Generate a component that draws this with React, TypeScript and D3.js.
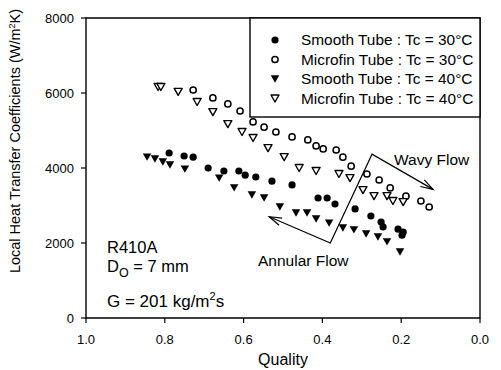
import React from "react";
import * as d3 from "d3";

const smooth30Q = [0.789, 0.751, 0.728, 0.69, 0.65, 0.612, 0.596, 0.569, 0.528, 0.477, 0.411, 0.388, 0.368, 0.317, 0.277, 0.251, 0.246, 0.208, 0.195, 0.198];
const smooth30H = [4400, 4320, 4290, 4000, 3920, 3920, 3810, 3760, 3650, 3550, 3200, 3200, 3040, 2910, 2720, 2560, 2430, 2370, 2290, 2210];

const smooth40Q = [0.845, 0.825, 0.805, 0.787, 0.749, 0.662, 0.624, 0.579, 0.548, 0.508, 0.467, 0.439, 0.416, 0.383, 0.348, 0.32, 0.289, 0.259, 0.236, 0.203];
const smooth40H = [4290, 4240, 4160, 4080, 3970, 3730, 3470, 3280, 3200, 2960, 2800, 2800, 2640, 2530, 2400, 2350, 2240, 2160, 2030, 1760];

const micro30Q = [0.728, 0.678, 0.64, 0.609, 0.576, 0.548, 0.518, 0.477, 0.437, 0.416, 0.398, 0.365, 0.348, 0.327, 0.287, 0.256, 0.228, 0.188, 0.15, 0.129];
const micro30H = [6080, 5870, 5710, 5520, 5230, 5090, 4960, 4830, 4750, 4590, 4510, 4480, 4290, 4050, 3840, 3680, 3470, 3250, 3120, 2960];

const micro40Q = [0.817, 0.81, 0.766, 0.718, 0.678, 0.64, 0.604, 0.576, 0.538, 0.497, 0.459, 0.416, 0.358, 0.33, 0.297, 0.269, 0.236, 0.221, 0.195];
const micro40H = [6160, 6160, 6030, 5760, 5490, 5170, 4960, 4800, 4530, 4290, 4000, 3920, 3840, 3730, 3410, 3250, 3250, 3120, 3090];

const xTicks = [1.0, 0.8, 0.6, 0.4, 0.2, 0.0];
const yTicks = [0, 2000, 4000, 6000, 8000];
const legendLabels = [
  "Smooth Tube : Tc = 30°C",
  "Microfin Tube : Tc = 30°C",
  "Smooth Tube : Tc = 40°C",
  "Microfin Tube : Tc = 40°C",
];

// annotation arrow waypoints (data units): quality, h
const annularTip = [0.535, 2700];
const corner = [0.38, 2000];
const apex = [0.274, 4370];
const wavyTip = [0.119, 3430];

const FONT = "'Liberation Sans', Arial, Helvetica, sans-serif";

export default function App() {
  const L = 86, R = 480, T = 18, B = 318;
  const x = d3.scaleLinear().domain([1, 0]).range([L, R]);
  const y = d3.scaleLinear().domain([0, 8000]).range([B, T]);

  const tri = (cx: number, cy: number, s: number) => {
    const h = s * 0.87;
    return `M${cx - s / 2},${cy - h / 2} L${cx + s / 2},${cy - h / 2} L${cx},${cy + h / 2} Z`;
  };

  const marker = (kind: number, cx: number, cy: number, key: string) => {
    if (kind === 0) return <circle key={key} cx={cx} cy={cy} r={3.6} fill="#000" />;
    if (kind === 1) return <circle key={key} cx={cx} cy={cy} r={3.1} fill="#fff" stroke="#000" strokeWidth={1.5} />;
    if (kind === 2) return <path key={key} d={tri(cx, cy, 8.5)} fill="#000" />;
    return <path key={key} d={tri(cx, cy, 8)} fill="#fff" stroke="#000" strokeWidth={1.4} strokeLinejoin="round" />;
  };

  const series = [
    { q: smooth30Q, h: smooth30H, kind: 0 },
    { q: micro30Q, h: micro30H, kind: 1 },
    { q: smooth40Q, h: smooth40H, kind: 2 },
    { q: micro40Q, h: micro40H, kind: 3 },
  ];

  const arrowHead = (tip: number[], from: number[], key: string) => {
    const tx = x(tip[0]), ty = y(tip[1]);
    const fx = x(from[0]), fy = y(from[1]);
    const ang = Math.atan2(fy - ty, fx - tx);
    const len = 13, spread = 0.3;
    const a1 = [tx + len * Math.cos(ang + spread), ty + len * Math.sin(ang + spread)];
    const a2 = [tx + len * Math.cos(ang - spread), ty + len * Math.sin(ang - spread)];
    return (
      <path key={key} d={`M${a1[0]},${a1[1]} L${tx},${ty} L${a2[0]},${a2[1]}`} fill="none" stroke="#000" strokeWidth={1.2} />
    );
  };

  const line = d3.line<number[]>().x((d) => x(d[0])).y((d) => y(d[1]));

  const legendRows = [40, 59.5, 79, 98.5];

  return (
    <div style={{ position: "fixed", left: 0, top: 0 }}>
      <svg width={501} height={370} style={{ display: "block", background: "#fff" }} fontFamily={FONT}>
        <rect x={0} y={0} width={501} height={370} fill="#fff" />
        {/* frame */}
        <path d={`M${L},${B} L${L},${T} L${R},${T} L${R},${B} Z`} fill="none" stroke="#000" strokeWidth={1.4} />
        {/* y ticks */}
        {yTicks.map((t) => (
          <g key={"yt" + t}>
            <line x1={L - 5} x2={L} y1={y(t)} y2={y(t)} stroke="#000" strokeWidth={1.2} />
            <text x={L - 12} y={y(t) + 4.5} fontSize={13} textAnchor="end" fill="#000">{t}</text>
          </g>
        ))}
        {/* x ticks */}
        {xTicks.map((t) => (
          <g key={"xt" + t}>
            <line x1={x(t)} x2={x(t)} y1={B} y2={B + 5} stroke="#000" strokeWidth={1.2} />
            <text x={x(t)} y={B + 26} fontSize={13} textAnchor="middle" fill="#000">{t.toFixed(1)}</text>
          </g>
        ))}
        <text x={(L + R) / 2} y={365} fontSize={16} textAnchor="middle" fill="#000">Quality</text>
        <text transform={`translate(20,${(T + B) / 2 - 27}) rotate(-90)`} fontSize={14.5} textAnchor="middle" fill="#000">
          Local Heat Transfer Coefficients (W/m<tspan dy={-5} fontSize={9}>2</tspan><tspan dy={5}>K)</tspan>
        </text>

        {/* data */}
        {series.map((s, si) => s.q.map((q, i) => marker(s.kind, x(q), y(s.h[i]), `m${si}-${i}`)))}

        {/* annotation */}
        <path d={line([annularTip, corner, apex, wavyTip]) || ""} fill="none" stroke="#000" strokeWidth={1.2} />
        {arrowHead(annularTip, corner, "ah1")}
        {arrowHead(wavyTip, apex, "ah2")}
        <text x={394} y={165} fontSize={15.5} fill="#000">Wavy Flow</text>
        <text x={258} y={266} fontSize={15.5} fill="#000">Annular Flow</text>

        {/* left annotation */}
        <text x={107} y={253} fontSize={16.5} fill="#000">R410A</text>
        <text x={107} y={272} fontSize={16.5} fill="#000">
          D<tspan dy={5} fontSize={12.5}>O</tspan><tspan dy={-5}> = 7 mm</tspan>
        </text>
        <text x={107} y={307} fontSize={17} fill="#000">
          G = 201 kg/m<tspan dy={-7} fontSize={11}>2</tspan><tspan dy={7}>s</tspan>
        </text>

        {/* legend */}
        <rect x={250} y={T} width={R - 250} height={117 - T} fill="#fff" stroke="#000" strokeWidth={1.4} />
        {legendLabels.map((lab, i) => (
          <g key={"lg" + i}>
            {marker(i, 275, legendRows[i], "lm" + i)}
            <text x={301} y={legendRows[i] + 5} fontSize={15.4} fill="#000">{lab}</text>
          </g>
        ))}
      </svg>
    </div>
  );
}
